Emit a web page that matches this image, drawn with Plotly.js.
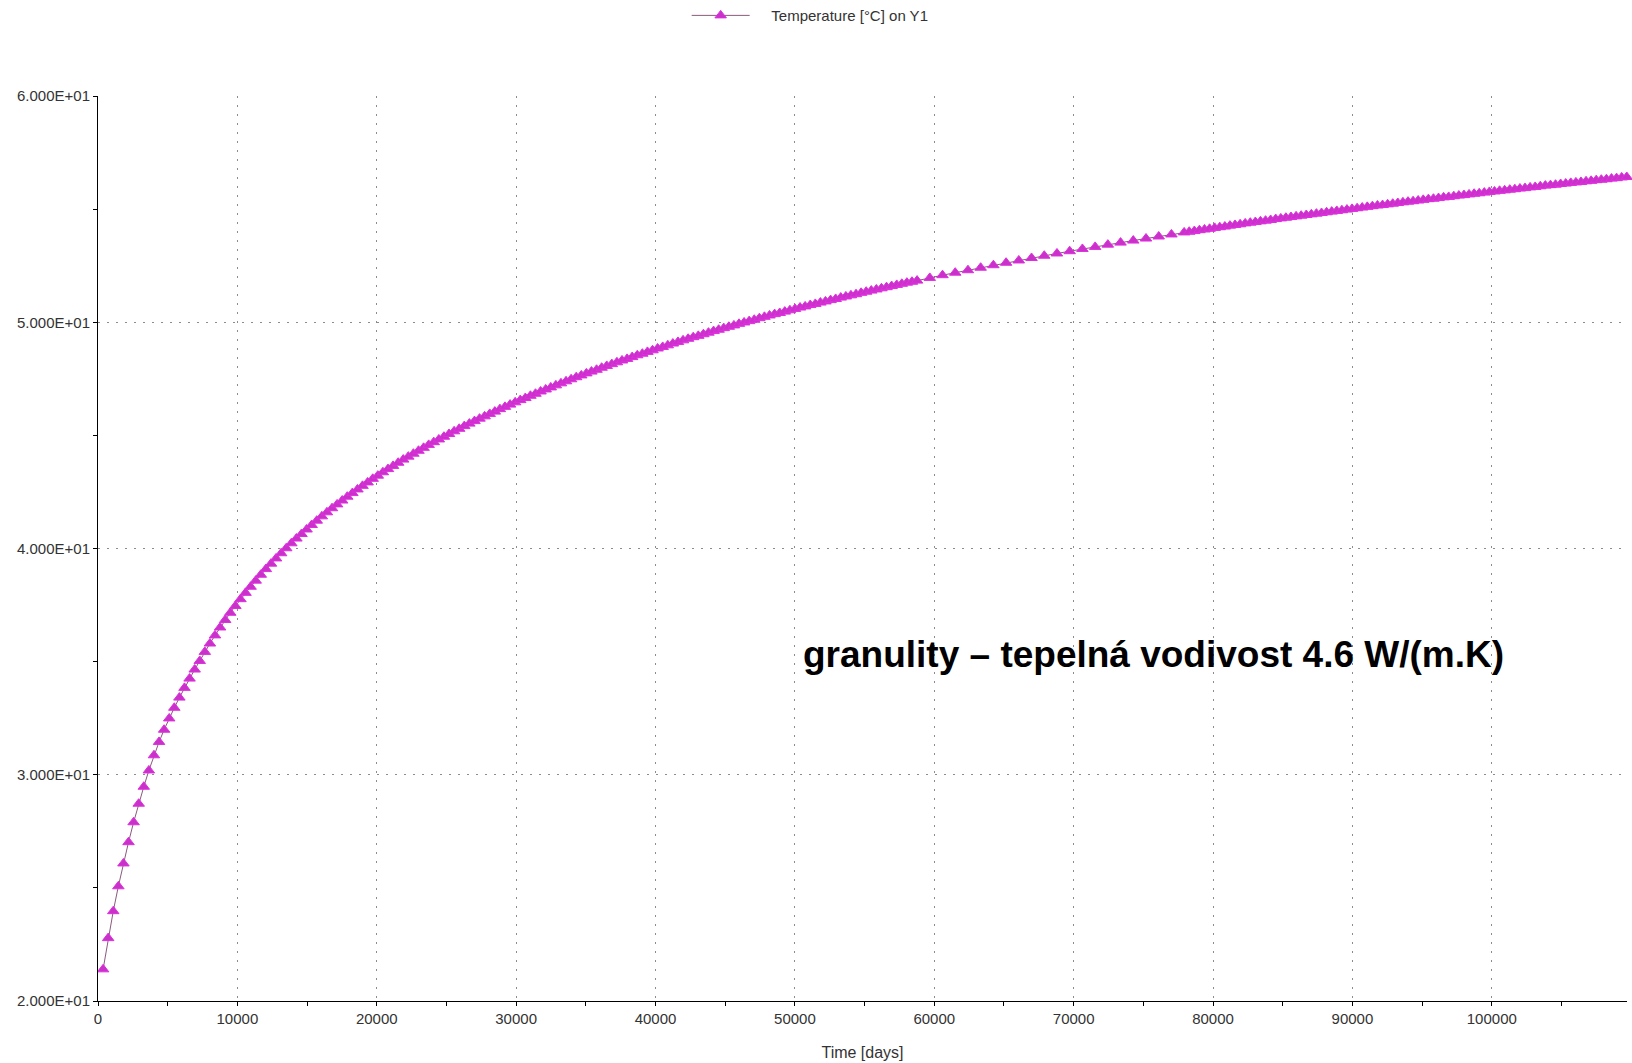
<!DOCTYPE html>
<html>
<head>
<meta charset="utf-8">
<script src="https://cdn.plot.ly/plotly-3.0.1.min.js"></script>
<style>
  html, body { margin: 0; padding: 0; background: #ffffff; }
  #chart { width: 1632px; height: 1063px; }
</style>
</head>
<body>
<div id="chart"></div>
<script>
// Simulated temperature history [°C]; the solver saves one value per year,
// then every 2.5 years for a stretch, then yearly again.
const yearStepDays = 365;
const sparseStepDays = 912.5;

// yearly output, years 1 .. 161
const tempYearlyA = [
  21.40, 22.78, 23.97, 25.07, 26.08, 27.02, 27.90, 28.72, 29.47, 30.19,
  30.86, 31.45, 31.99, 32.49, 32.96, 33.41, 33.84, 34.25, 34.65, 35.03,
  35.43, 35.80, 36.16, 36.51, 36.84, 37.16, 37.46, 37.76, 38.04, 38.31,
  38.58, 38.84, 39.09, 39.33, 39.56, 39.79, 40.01, 40.23, 40.44, 40.64,
  40.84, 41.04, 41.23, 41.42, 41.60, 41.78, 41.95, 42.12, 42.29, 42.45,
  42.61, 42.77, 42.92, 43.08, 43.22, 43.37, 43.51, 43.65, 43.79, 43.93,
  44.06, 44.19, 44.32, 44.45, 44.58, 44.70, 44.82, 44.94, 45.06, 45.18,
  45.29, 45.41, 45.52, 45.63, 45.74, 45.84, 45.95, 46.05, 46.16, 46.26,
  46.36, 46.46, 46.56, 46.65, 46.75, 46.84, 46.94, 47.03, 47.12, 47.21,
  47.30, 47.39, 47.48, 47.57, 47.65, 47.74, 47.82, 47.90, 47.99, 48.07,
  48.15, 48.23, 48.31, 48.38, 48.46, 48.54, 48.61, 48.69, 48.76, 48.84,
  48.91, 48.98, 49.06, 49.13, 49.20, 49.27, 49.34, 49.40, 49.47, 49.54,
  49.61, 49.67, 49.74, 49.80, 49.86, 49.93, 49.99, 50.05, 50.11, 50.18,
  50.24, 50.30, 50.36, 50.41, 50.47, 50.53, 50.59, 50.65, 50.70, 50.76,
  50.81, 50.87, 50.92, 50.98, 51.03, 51.09, 51.14, 51.19, 51.24, 51.30,
  51.35, 51.40, 51.45, 51.50, 51.55, 51.60, 51.65, 51.70, 51.75, 51.79,
  51.84
];

// output every 2.5 years
const tempSparse = [
  51.96, 52.08, 52.19, 52.30, 52.41, 52.52, 52.63, 52.73, 52.84, 52.94,
  53.04, 53.14, 53.24, 53.33, 53.43, 53.52, 53.61, 53.70, 53.79, 53.88,
  53.97
];

// yearly output again, up to the end of the run
const tempYearlyB = [
  54.00, 54.03, 54.07, 54.10, 54.13, 54.17, 54.20, 54.23, 54.27, 54.30,
  54.33, 54.37, 54.40, 54.43, 54.46, 54.49, 54.52, 54.56, 54.59, 54.62,
  54.65, 54.68, 54.71, 54.74, 54.77, 54.80, 54.83, 54.86, 54.89, 54.92,
  54.95, 54.98, 55.01, 55.04, 55.07, 55.10, 55.13, 55.16, 55.18, 55.21,
  55.24, 55.27, 55.30, 55.33, 55.35, 55.38, 55.41, 55.44, 55.46, 55.49,
  55.52, 55.54, 55.57, 55.60, 55.62, 55.65, 55.68, 55.70, 55.73, 55.76,
  55.78, 55.81, 55.83, 55.86, 55.88, 55.91, 55.93, 55.96, 55.98, 56.01,
  56.04, 56.06, 56.08, 56.11, 56.13, 56.16, 56.18, 56.20, 56.23, 56.25,
  56.28, 56.30, 56.32, 56.35, 56.37, 56.40, 56.42
];

const xTickVals = [0, 10000, 20000, 30000, 40000, 50000, 60000, 70000, 80000, 90000, 100000];
const xTickText = ['0', '10000', '20000', '30000', '40000', '50000', '60000', '70000', '80000', '90000', '100000'];
const yTickVals = [20, 30, 40, 50, 60];
const yTickText = ['2.000E+01', '3.000E+01', '4.000E+01', '5.000E+01', '6.000E+01'];

const seriesName = 'Temperature [°C] on Y1';
const noteText = 'granulity – tepelná vodivost 4.6 W/(m.K)';

// time axis of the saved steps
const days = [];
const temps = [];
let t = 0;
tempYearlyA.forEach(v => { t += yearStepDays; days.push(t); temps.push(v); });
tempSparse.forEach(v => { t += sparseStepDays; days.push(t); temps.push(v); });
tempYearlyB.forEach(v => { t += yearStepDays; days.push(t); temps.push(v); });

const trace = {
  x: days,
  y: temps,
  type: 'scatter',
  mode: 'lines+markers',
  name: '\u00a0\u00a0\u00a0\u00a0' + seriesName,
  line: { color: '#8a5a7c', width: 1 },
  marker: {
    symbol: 'triangle-up',
    size: 10,
    color: '#c832c8',
    line: { color: '#e02ee0', width: 1 }
  },
  cliponaxis: false,
  showlegend: true
};

const baseFont = 'Liberation Sans, Arial, sans-serif';
const tickFont = { family: baseFont, size: 15, color: '#333333' };
const gridDash = '2px,7px';

// ticks that cross the axis line: outer half on the main axes,
// inner half on overlaid tick-only axes
const tickOnlyAxis = (extra) => Object.assign({
  ticks: 'inside',
  ticklen: 4,
  tickcolor: '#000000',
  showticklabels: false,
  showgrid: false,
  showline: false,
  zeroline: false
}, extra);

const layout = {
  width: 1632,
  height: 1063,
  paper_bgcolor: '#ffffff',
  plot_bgcolor: '#ffffff',
  margin: { l: 98, r: 5, t: 96, b: 62, autoexpand: false },
  showlegend: true,
  legend: {
    orientation: 'h',
    x: 0.385,
    xanchor: 'left',
    y: 1.0888,
    yanchor: 'middle',
    font: { family: baseFont, size: 15, color: '#333333' },
    bgcolor: 'rgba(0,0,0,0)',
    itemwidth: 58
  },
  xaxis: {
    range: [0, 109700],
    tickvals: xTickVals,
    ticktext: xTickText,
    ticks: 'outside',
    ticklen: 4,
    tickcolor: '#000000',
    tickfont: tickFont,
    showline: true,
    linecolor: '#000000',
    linewidth: 1,
    showgrid: true,
    gridcolor: '#8c8c8c',
    gridwidth: 1,
    griddash: gridDash,
    zeroline: false,
    minor: { dtick: 5000, tick0: 0, ticks: 'outside', ticklen: 4, tickcolor: '#000000', showgrid: false },
    title: { text: 'Time [days]', font: { family: baseFont, size: 16, color: '#333333' }, standoff: 20 }
  },
  yaxis: {
    range: [20, 60],
    tickvals: yTickVals,
    ticktext: yTickText,
    ticks: 'outside',
    ticklen: 4,
    tickcolor: '#000000',
    tickfont: tickFont,
    showline: true,
    linecolor: '#000000',
    linewidth: 1,
    showgrid: true,
    gridcolor: '#8c8c8c',
    gridwidth: 1,
    griddash: gridDash,
    zeroline: false,
    minor: { dtick: 5, tick0: 20, ticks: 'outside', ticklen: 4, tickcolor: '#000000', showgrid: false }
  },
  xaxis2: tickOnlyAxis({
    overlaying: 'x', anchor: 'y', side: 'bottom', matches: 'x',
    range: [0, 109700], tickvals: xTickVals,
    minor: { dtick: 5000, tick0: 0, ticks: 'inside', ticklen: 4, tickcolor: '#000000', showgrid: false }
  }),
  yaxis2: tickOnlyAxis({
    overlaying: 'y', anchor: 'x', side: 'left', matches: 'y',
    range: [20, 60], tickvals: yTickVals,
    minor: { dtick: 5, tick0: 20, ticks: 'inside', ticklen: 4, tickcolor: '#000000', showgrid: false }
  }),
  annotations: [{
    text: '<b>' + noteText + '</b>',
    x: 75700,
    y: 35.33,
    xref: 'x',
    yref: 'y',
    xanchor: 'center',
    yanchor: 'middle',
    showarrow: false,
    font: { family: baseFont, size: 37, color: '#000000' }
  }]
};

Plotly.newPlot('chart', [trace], layout, { displayModeBar: false, staticPlot: true });
</script>
</body>
</html>
